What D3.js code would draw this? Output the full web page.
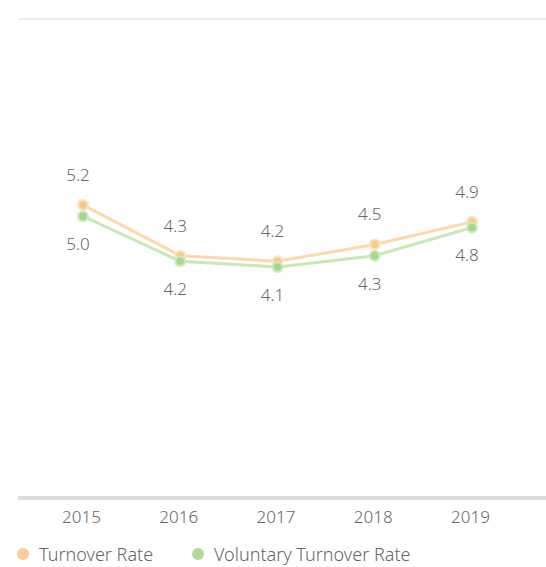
<!DOCTYPE html>
<html>
<head>
<meta charset="utf-8">
<script src="https://cdn.jsdelivr.net/npm/d3@7"></script>
<style>
  html, body { margin: 0; padding: 0; background: #fff; }
  svg { display: block; font-family: "Noto Sans", "Open Sans", sans-serif; }
</style>
</head>
<body>
<svg id="chart" width="546" height="567"></svg>
<script>
// Annual turnover rates (%)
const years = ["2015", "2016", "2017", "2018", "2019"];
const turnoverRate = [5.2, 4.3, 4.2, 4.5, 4.9];
const voluntaryTurnoverRate = [5.0, 4.2, 4.1, 4.3, 4.8];
const seriesNames = ["Turnover Rate", "Voluntary Turnover Rate"];

const series = [
  { name: seriesNames[0], values: turnoverRate, line: "#fdd9aa", dot: "#fcc788", halo: "#fde3c3", labelPos: "above" },
  { name: seriesNames[1], values: voluntaryTurnoverRate, line: "#c8e8b6", dot: "#a6d78e", halo: "#cdeac0", labelPos: "below" }
];

const svg = d3.select("#chart");
const plotLeft = 18, plotRight = 546, plotTop = 19, axisY = 498;

const x = d3.scalePoint().domain(years).range([83, 472]);
const y = d3.scaleLinear().domain([0, 8.5]).range([axisY, plotTop]);

// top grid line
svg.append("line")
  .attr("x1", plotLeft).attr("x2", plotRight)
  .attr("y1", y(8.5)).attr("y2", y(8.5))
  .attr("stroke", "#e3e3e3").attr("stroke-width", 1.5);

// baseline
svg.append("line")
  .attr("x1", plotLeft).attr("x2", plotRight)
  .attr("y1", axisY).attr("y2", axisY)
  .attr("stroke", "#dcdcdc").attr("stroke-width", 4);

// x-axis labels
const xAxis = d3.axisBottom(x).tickSize(0).tickPadding(0);
const gx = svg.append("g").attr("transform", `translate(-2,${axisY + 13})`).call(xAxis);
gx.select(".domain").remove();
gx.selectAll("text")
  .attr("dy", "0.71em")
  .attr("font-size", 17)
  .attr("font-weight", 300)
  .attr("fill", "#666")
  .style("font-family", "'Noto Sans', sans-serif");

const line = d3.line().x((d, i) => x(years[i])).y(d => y(d));

series.forEach(s => {
  const g = svg.append("g");
  g.append("path")
    .datum(s.values)
    .attr("d", line)
    .attr("fill", "none")
    .attr("stroke", s.line)
    .attr("stroke-width", 3);

  g.selectAll("circle.halo")
    .data(s.values)
    .join("circle")
    .attr("class", "halo")
    .attr("cx", (d, i) => x(years[i]))
    .attr("cy", d => y(d))
    .attr("r", 6)
    .attr("fill", s.halo);

  g.selectAll("circle.dot")
    .data(s.values)
    .join("circle")
    .attr("class", "dot")
    .attr("cx", (d, i) => x(years[i]))
    .attr("cy", d => y(d))
    .attr("r", 3.8)
    .attr("fill", s.dot);

  g.selectAll("text")
    .data(s.values)
    .join("text")
    .attr("x", (d, i) => x(years[i]) - 5)
    .attr("y", d => s.labelPos === "above" ? y(d) - 30 : y(d) + 28)
    .attr("dy", "0.35em")
    .attr("text-anchor", "middle")
    .attr("font-size", 17)
    .attr("font-weight", 300)
    .attr("fill", "#666")
    .text(d => d.toFixed(1));
});

// legend
const legendX = [23, 198];
const legend = svg.append("g").attr("transform", "translate(0,555)");
series.forEach((s, i) => {
  legend.append("circle")
    .attr("cx", legendX[i]).attr("cy", -1).attr("r", 6)
    .attr("fill", s.dot).attr("opacity", 0.9);
  legend.append("text")
    .attr("x", legendX[i] + 16).attr("y", 0)
    .attr("dy", "0.35em")
    .attr("font-size", 18)
    .attr("font-weight", 300)
    .attr("fill", "#666")
    .text(s.name);
});
</script>
</body>
</html>
